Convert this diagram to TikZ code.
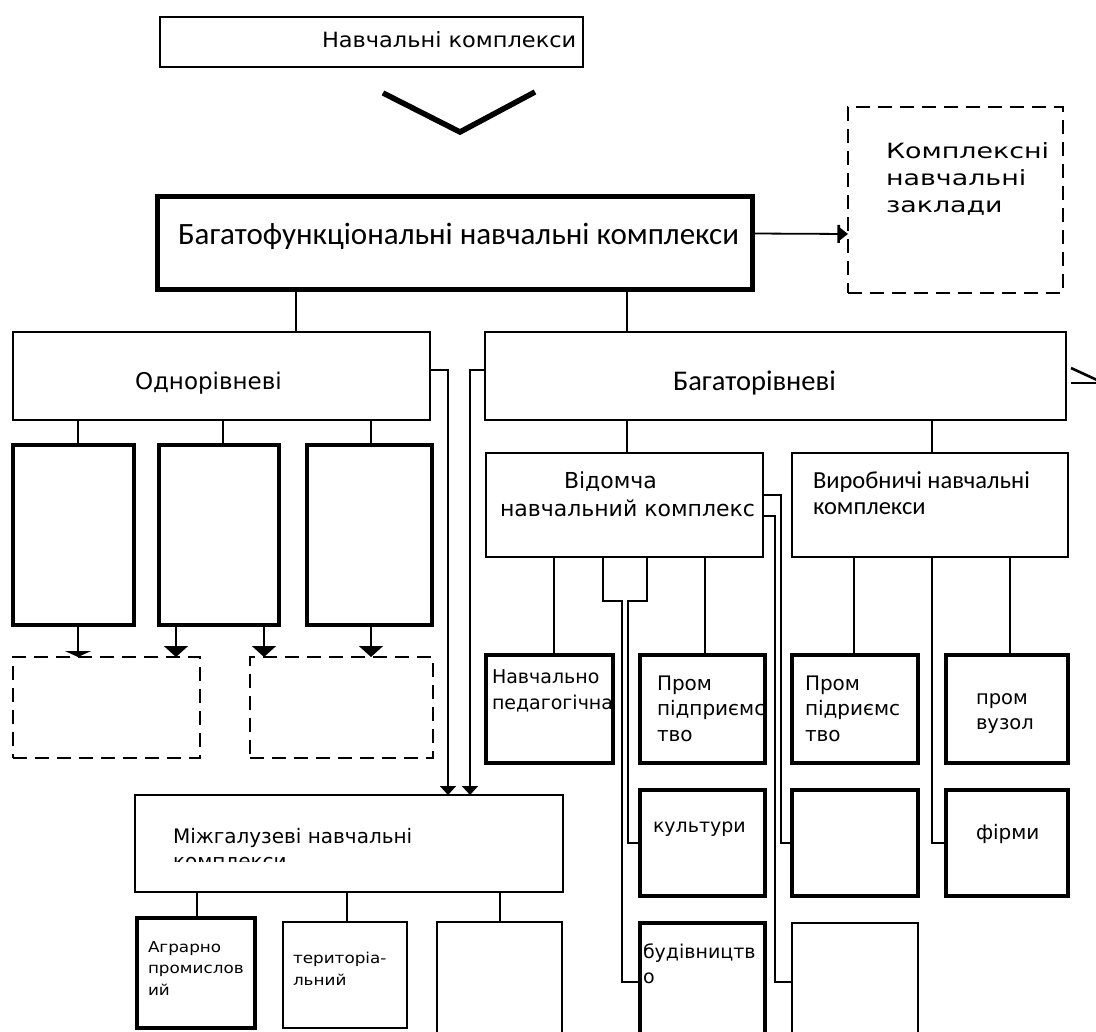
\documentclass[tikz,border=0pt]{standalone}
\usepackage{fontspec}
\setmainfont{DejaVu Sans}
\newfontfamily\carl{Carlito}
\newfontfamily\djk[FakeStretch=1.28]{DejaVu Sans}
\newfontfamily\dja[FakeStretch=1.07]{DejaVu Sans}
\newfontfamily\djs[FakeStretch=1.12]{DejaVu Sans}
\usetikzlibrary{arrows.meta}
\tikzset{
  bx/.style={draw, line width=2.2pt, inner sep=0pt, outer sep=0pt},
  thk/.style={draw, line width=3.6pt, inner sep=0pt, outer sep=0pt},
  dbx/.style={draw, line width=2.4pt, dash pattern=on 14pt off 8pt, inner sep=0pt, outer sep=0pt},
  cn/.style={line width=1.8pt},
  lbl/.style={anchor=base west, inner sep=0pt, outer sep=0pt, align=left},
  tip/.style={-{Triangle[width=24pt,length=11pt]}},
  tipsm/.style={-{Triangle[width=16pt,length=9pt]}},
}
\newcommand\bxn[6]{\node[#6, minimum width={#4pt-#2pt}, minimum height={#5pt-#3pt}] (#1) at ({(#2+#4)/2},{(#3+#5)/2}) {};}
\newcommand\fs[2]{\fontsize{#1}{#2}\selectfont}
\begin{document}
\begin{tikzpicture}[x=1pt,y=-1pt]
\useasboundingbox (0,0) rectangle (1096,1032);
\clip (0,0) rectangle (1096,1032);
% boxes
\bxn{top}{160}{17}{583}{67}{draw, line width=1.8pt, inner sep=0pt, outer sep=0pt}
\bxn{big}{157}{197}{752}{290}{draw, line width=5pt, inner sep=0pt, outer sep=0pt}
\bxn{kompl}{848}{107}{1063}{293}{dbx}
\bxn{one}{13}{332}{430}{420}{bx}
\bxn{multi}{485}{332}{1066}{420}{bx}
\bxn{s1}{13}{445}{134}{625}{thk}
\bxn{s2}{159}{445}{279}{625}{thk}
\bxn{s3}{307}{445}{432}{625}{thk}
\bxn{d1}{13}{657}{200}{758}{dbx}
\bxn{d2}{250}{657}{433}{758}{dbx}
\bxn{inter}{135}{795}{563}{892}{bx}
\bxn{ia}{137}{918}{255}{1028}{thk}
\bxn{ib}{283}{922}{407}{1028}{bx}
\bxn{ic}{437}{922}{562}{1045}{bx}
\bxn{ved}{486}{453}{763}{557}{bx}
\bxn{vyr}{792}{453}{1068}{557}{bx}
\bxn{navped}{486}{655}{613}{763}{thk}
\bxn{prom1}{640}{655}{765}{763}{thk}
\bxn{prom2}{792}{655}{918}{763}{thk}
\bxn{vuzol}{946}{655}{1068}{763}{thk}
\bxn{kult}{640}{790}{765}{896}{thk}
\bxn{emp2}{792}{790}{918}{896}{thk}
\bxn{firmy}{946}{790}{1068}{896}{thk}
\bxn{bud}{640}{923}{765}{1045}{thk}
\bxn{emp3}{792}{923}{918}{1045}{bx}
% labels (base = baseline of the last line)
\node[lbl, font=\dja\fs{21}{26}] (tTop) at (322,48) {Навчальні комплекси};
\node[lbl, font=\carl\fs{31}{34}] (tBig) at (178,245) {Багатофункціональні навчальні комплекси};
\node[lbl, font=\djk\fs{21}{27}] (tKompl) at (886,213) {Комплексні\\навчальні\\заклади};
\node[lbl, font=\fs{23}{26}] (tOne) at (135,390) {Однорівневі};
\node[lbl, font=\carl\fs{28.5}{30}] (tMulti) at (673,391) {Багаторівневі};
\node[lbl, font=\fs{22}{26}] (tVedA) at (564,489) {Відомча};
\node[lbl, font=\fs{22}{26}] (tVedB) at (500,516) {навчальний комплекс};
\node[lbl, font=\carl\fs{24.5}{26}] (tVyr) at (813,514) {Виробничі навчальні\\комплекси};
\node[lbl, font=\fs{20}{25}] (tInter) at (173,843) {Міжгалузеві навчальні};
\begin{scope}
\clip (140,851) rectangle (420,861);
\node[lbl, font=\fs{20}{25}] (tInter2) at (173,868) {комплекси};
\end{scope}
\node[lbl, font=\djs\fs{15}{21.5}] (tIa) at (148,995) {Аграрно\\промислов\\ий};
\node[lbl, font=\djs\fs{15}{22}] (tIb) at (293,985) {територіа-\\льний};
\node[lbl, font=\fs{19}{26}] (tNav) at (492,709) {Навчально\\педагогічна};
\node[lbl, font=\fs{20}{25.5}] (tP1) at (657,741) {Пром\\підприємс\\тво};
\node[lbl, font=\fs{20}{25.5}] (tP2) at (805,741) {Пром\\підриємс\\тво};
\node[lbl, font=\fs{19.5}{25}] (tVuz) at (976,729) {пром\\вузол};
\node[lbl, font=\fs{19}{25}] (tKult) at (653,832) {культури};
\node[lbl, font=\fs{20}{25}] (tFirm) at (976,839) {фірми};
\node[lbl, font=\fs{19}{25}] (tBud) at (643,983) {будівництв\\о};
% chevron
\draw[line width=5.5pt, line join=miter] (383,93) -- (460,132) -- (535,92);
% connectors
\draw[cn, -{Bar[width=18pt,line width=2.6pt]Triangle[width=12pt,length=8pt]}] ([yshift=10pt]big.east) -- ([yshift=-34pt]kompl.west);
\draw[cn] (big.south -| 296,0) -- (one.north -| 296,0);
\draw[cn] (big.south -| 627,0) -- (multi.north -| 627,0);
\draw[cn] (one.south -| 78,0) -- (s1.north -| 78,0);
\draw[cn] (one.south -| 223,0) -- (s2.north -| 223,0);
\draw[cn] (one.south -| 371,0) -- (s3.north -| 371,0);
\draw[cn, -{Triangle[width=26pt,length=6pt]}] (s1.south -| 78,0) -- (d1.north -| 78,0);
\draw[cn, tip] (s2.south -| 176,0) -- (d1.north -| 176,0);
\draw[cn, tip] (s2.south -| 264,0) -- (d2.north -| 264,0);
\draw[cn, tip] (s3.south -| 371,0) -- (d2.north -| 371,0);
\draw[cn, tipsm] (one.east |- 0,370) -| (inter.north -| 448,0);
\draw[cn, tipsm] (multi.west |- 0,370) -| (inter.north -| 470,0);
\draw[cn] (inter.south -| 197,0) -- (ia.north -| 197,0);
\draw[cn] (inter.south -| 347,0) -- (ib.north -| 347,0);
\draw[cn] (inter.south -| 500,0) -- (ic.north -| 500,0);
\draw[cn] (multi.south -| 627,0) -- (ved.north -| 627,0);
\draw[cn] (multi.south -| 932,0) -- (vyr.north -| 932,0);
\draw[cn] (ved.south -| 554,0) -- (navped.north -| 554,0);
\draw[cn] (ved.south -| 705,0) -- (prom1.north -| 705,0);
\draw[cn] (ved.south -| 603,0) |- (622,601) |- (bud.west |- 0,982);
\draw[cn] (ved.south -| 647,0) |- (628,601) |- (kult.west |- 0,843);
\draw[cn] (ved.east |- 0,495) -| (781,843) -- (emp2.west |- 0,843);
\draw[cn] (ved.east |- 0,516) -| (775,982) -- (emp3.west |- 0,982);
\draw[cn] (vyr.south -| 854,0) -- (prom2.north -| 854,0);
\draw[cn] (vyr.south -| 1010,0) -- (vuzol.north -| 1010,0);
\draw[cn] (vyr.south -| 932,0) |- (firmy.west |- 0,843);
% partial arrow right of multi
\draw[line width=2.6pt] (multi.east) ++(5,-8) -- ++(26,12);
\draw[line width=2.2pt] (multi.east) ++(5,7) -- ++(26,0);
\end{tikzpicture}
\end{document}
